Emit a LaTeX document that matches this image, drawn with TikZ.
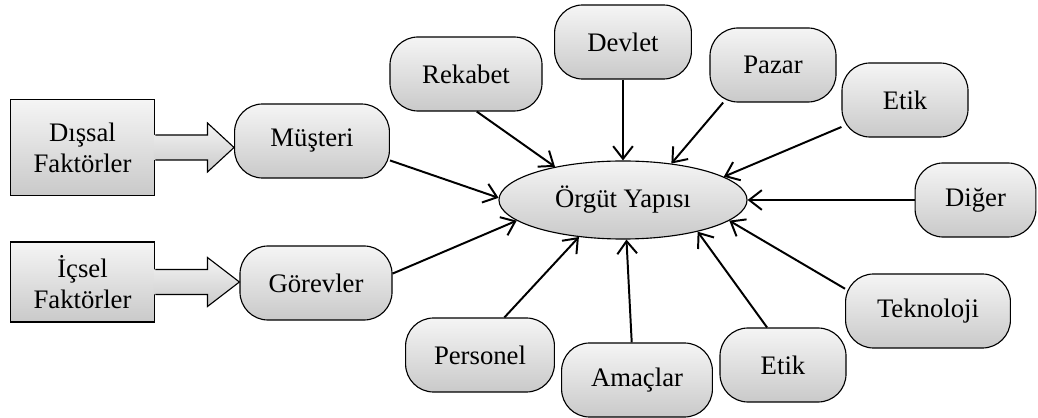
\documentclass[tikz,border=0pt]{standalone}
\usepackage{fontspec}
\setmainfont{Liberation Serif}
\usetikzlibrary{shapes.geometric,arrows.meta,calc}

\begin{document}
\begin{tikzpicture}[
    x=0.025cm, y=-0.025cm,
    font=\fontsize{19}{22}\selectfont,
    greyfill/.style={top color=gray!8, bottom color=gray!42},
    factorbox/.style={rectangle, draw=black, line width=0.8pt, greyfill, align=center, minimum width=3.62cm, inner sep=0pt},
    roundbox/.style={rectangle, draw=black, line width=0.8pt, greyfill, rounded corners=0.7cm, align=center, minimum height=1.85cm, inner sep=0pt},
    centerell/.style={ellipse, draw=black, line width=0.8pt, greyfill, minimum width=6.2cm, minimum height=1.95cm, inner sep=0pt},
    arrow/.style={-{Straight Barb[length=9pt,width=14pt]}, line width=1.4pt, black}
]
    \useasboundingbox (0,0) rectangle (1038,418);

    % Factor boxes
    \node[factorbox, minimum height=2.38cm] (dissal) at (82.5,147.5) {Dışsal\\Faktörler};
    \node[factorbox, minimum height=2cm] (icsel) at (82.5,282) {İçsel\\Faktörler};

    % Center
    \node[centerell] (orgut) at (623,200) {Örgüt Yapısı};

    % Surrounding boxes
    \node[roundbox, minimum width=3.87cm] (musteri) at (312,141) {Müşteri};
    \node[roundbox, minimum width=3.8cm] (gorevler) at (316,283) {Görevler};
    \node[roundbox, minimum width=3.8cm] (rekabet) at (466,74) {Rekabet};
    \node[roundbox, minimum width=3.42cm] (devlet) at (623,42) {Devlet};
    \node[roundbox, minimum width=3.15cm] (pazar) at (773,65) {Pazar};
    \node[roundbox, minimum width=3.15cm] (etikust) at (905,100) {Etik};
    \node[roundbox, minimum width=3.02cm] (diger) at (975.5,200) {Diğer};
    \node[roundbox, minimum width=4.12cm] (teknoloji) at (928,311) {Teknoloji};
    \node[roundbox, minimum width=3.15cm] (etikalt) at (783,365) {Etik};
    \node[roundbox, minimum width=3.77cm] (amaclar) at (637,380) {Amaçlar};
    \node[roundbox, minimum width=3.72cm] (personel) at (480,355) {Personel};

    % Block arrows
    \foreach \src/\dst in {dissal/musteri, icsel/gorevler} {
        \coordinate (tip) at (\dst.west |- \src.east);
        \shade[greyfill] ($(\src.east)+(-1.5,-12.5)$) -- ++(53.5,0) -- ++(0,-12) -- (tip)
            -- ($(\src.east)+(52,24.5)$) -- ++(0,-12) -- ++(-53.5,0) -- cycle;
        \draw[line width=0.8pt] ($(\src.east)+(0,-12.5)$) -- ++(52,0) -- ++(0,-12) -- (tip)
            -- ($(\src.east)+(52,24.5)$) -- ++(0,-12) -- ++(-52,0);
    }

    % Arrows
    \foreach \src/\from/\to in {musteri/-14/179, gorevler/7/-169, rekabet/-74/154,
        devlet/-90/90, pazar/-143/37, etikust/-157/13, diger/180/0,
        teknoloji/165/-11, etikalt/113/-23, amaclar/98/-85, personel/57/-140} {
        \draw[arrow] (\src.\from) -- (orgut.\to);
    }
\end{tikzpicture}
\end{document}
